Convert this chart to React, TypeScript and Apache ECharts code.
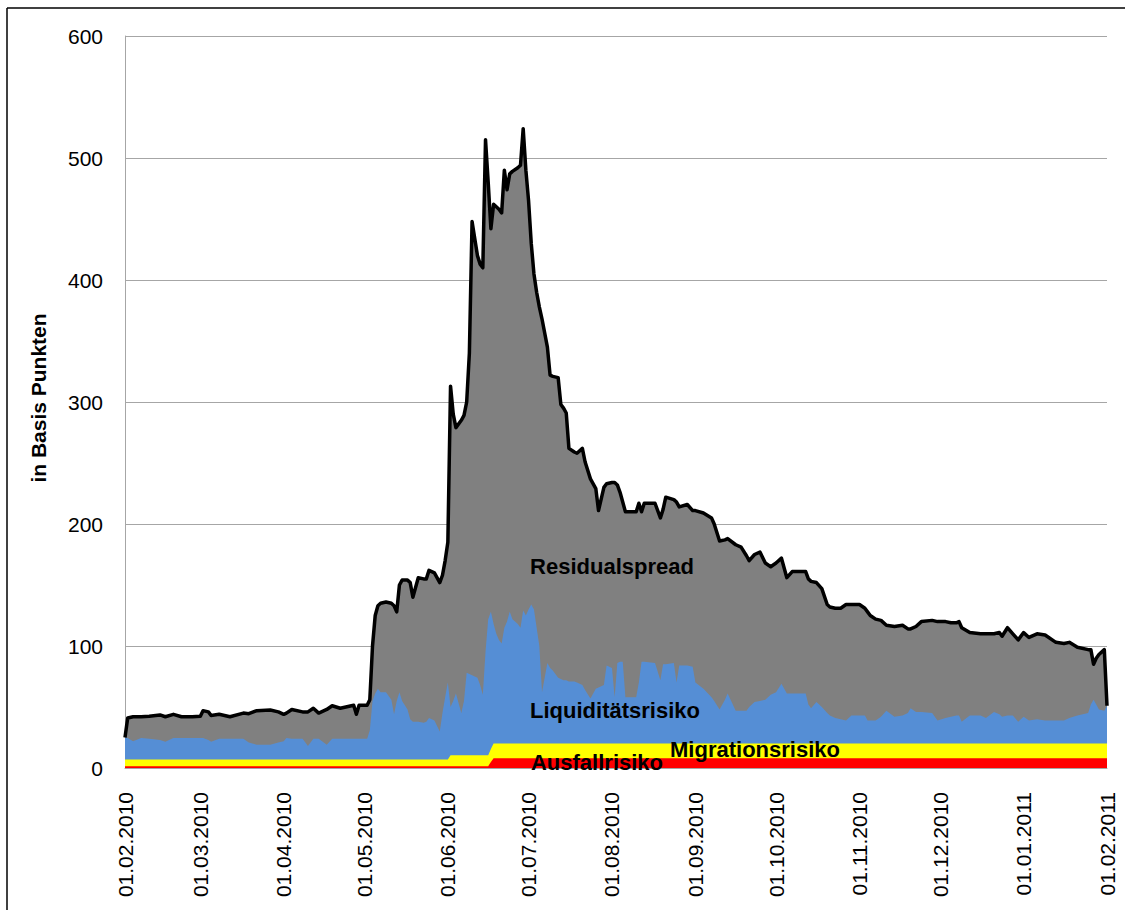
import React, { useEffect, useRef } from "react";
import * as echarts from "echarts";

// X-axis tick labels (monthly)
const tickLabels = [
  "01.02.2010", "01.03.2010", "01.04.2010", "01.05.2010", "01.06.2010", "01.07.2010",
  "01.08.2010", "01.09.2010", "01.10.2010", "01.11.2010", "01.12.2010", "01.01.2011", "01.02.2011",
];

// Observation dates, as days since 01.02.2010
const dayOffsets = [
  0, 1, 3, 6, 9, 13, 15, 18, 21, 25, 28, 29, 31, 32, 35, 39, 44, 46, 49, 54,
  57, 59, 60, 62, 66, 68, 70, 72, 75, 77, 80, 85, 86, 87, 90, 91, 92, 93, 94, 95,
  97, 99, 100, 101, 102, 103, 105, 106, 107, 109, 111, 112, 113, 115, 117, 118, 119, 120, 121, 122,
  123, 125, 126, 127, 128, 129, 131, 132, 133, 134, 135, 136, 137, 138, 139, 140, 141, 142, 143, 144,
  146, 147, 148, 149, 150, 151, 152, 153, 154, 155, 157, 158, 159, 161, 162, 163, 164, 165, 167, 168,
  170, 171, 173, 175, 176, 178, 179, 181, 182, 183, 184, 185, 186, 190, 191, 192, 193, 197, 199, 200,
  201, 204, 205, 206, 209, 211, 212, 215, 218, 219, 221, 223, 224, 227, 229, 231, 232, 234, 236, 238,
  240, 242, 244, 246, 248, 251, 253, 254, 255, 257, 259, 261, 262, 264, 266, 268, 270, 273, 275, 276,
  277, 279, 281, 283, 286, 289, 291, 292, 294, 296, 300, 302, 305, 307, 309, 310, 311, 314, 318, 320,
  323, 325, 326, 328, 330, 332, 334, 336, 339, 342, 346, 349, 351, 354, 358, 359, 360, 361, 362, 364,
  365,
];

// Total spread (black line), bp
const gesamt = [
  25, 41, 42, 42, 42.5, 43.5, 42, 44, 42, 42, 42.5, 47, 46, 43, 44, 42, 45, 44.5, 47, 47.5,
  46, 44, 45, 48, 46, 46, 49, 45, 48, 51, 49, 51.5, 44, 51.5, 51.5, 56, 100, 125, 133, 135,
  136, 135, 133, 128, 150, 154, 154, 152, 140, 156, 155, 155, 162, 160, 152, 158, 170, 185, 313, 290,
  279, 285, 289, 300, 340, 448, 420, 413, 410, 515, 480, 442, 462, 460, 458, 455, 490, 474, 487, 489,
  492, 494, 524, 490, 465, 430, 405, 390, 378, 368, 345, 322, 321, 320, 298, 295, 291, 262, 259, 258,
  262, 251, 237, 229, 211, 230, 233, 234, 234, 232, 226, 218, 210, 210, 217, 210, 217, 217, 205, 212,
  222, 220, 218, 214, 216, 211, 211, 209, 205, 200, 186, 187, 188, 183, 181, 174, 170, 175, 177, 168,
  165, 168, 172, 156, 161, 161, 161, 155, 153, 152, 147, 134, 132, 131, 131, 134, 134, 134, 131, 128,
  125, 122, 121, 117, 116, 117, 114, 114, 116, 120, 121, 120, 120, 119, 119, 120, 115, 111, 110, 110,
  110, 111, 108, 115, 110, 105, 111, 107, 110, 109, 103, 102, 103, 99, 97, 97, 85, 90, 93, 97,
  51,
];

// Upper edge of the Liquiditätsrisiko layer (Ausfall + Migration + Liquidität), bp
const liquiditaetOben = [
  25, 24.5, 22, 24.5, 24, 23, 21.5, 24.5, 24.5, 24.5, 24.5, 24.5, 23, 21.5, 24, 24, 24, 21, 19, 19,
  21, 22, 24.5, 24, 24, 18, 24, 24, 19, 24, 24, 24, 24, 24, 24, 31, 55, 61, 65, 62,
  62, 56, 44, 55, 62, 55, 48, 40, 38, 38, 37, 38, 41, 39, 30, 45, 58, 70, 50, 55,
  61, 45, 55, 78, 77, 76, 74, 68, 60, 95, 122, 128, 118, 110, 105, 102, 115, 120, 128, 122,
  118, 115, 129, 125, 130, 134, 130, 115, 100, 62, 86, 82, 80, 74, 73, 72, 72, 71, 71, 70,
  68, 64, 57, 65, 66, 68, 84, 82, 58, 86, 87, 87, 58, 58, 70, 87, 87, 86, 72, 85,
  85, 86, 70, 84, 84, 83, 70, 65, 58, 55, 48, 56, 61, 47, 47, 47, 50, 54, 55, 56,
  60, 62, 69, 61, 61, 61, 61, 52, 49, 54, 50, 45, 43, 41, 40, 39, 43, 43, 43, 39,
  39, 39, 42, 47, 42, 43, 45, 49, 46, 46, 45, 39, 41, 42, 43, 43, 38, 43, 43, 41,
  46, 44, 42, 43, 43, 38, 42, 39, 40, 39, 39, 39, 41, 43, 45, 52, 56, 52, 48, 47,
  51,
];

// Ausfallrisiko, bp
const ausfall = [
  1.5, 1.5, 1.5, 1.5, 1.5, 1.5, 1.5, 1.5, 1.5, 1.5, 1.5, 1.5, 1.5, 1.5, 1.5, 1.5, 1.5, 1.5, 1.5, 1.5,
  1.5, 1.5, 1.5, 1.5, 1.5, 1.5, 1.5, 1.5, 1.5, 1.5, 1.5, 1.5, 1.5, 1.5, 1.5, 1.5, 1.5, 1.5, 1.5, 1.5,
  1.5, 1.5, 1.5, 1.5, 1.5, 1.5, 1.5, 1.5, 1.5, 1.5, 1.5, 1.5, 1.5, 1.5, 1.5, 1.5, 1.5, 1.5, 1.5, 1.5,
  1.5, 1.5, 1.5, 1.5, 1.5, 1.5, 1.5, 1.5, 1.5, 1.5, 1.5, 5, 8, 8, 8, 8, 8, 8, 8, 8,
  8, 8, 8, 8, 8, 8, 8, 8, 8, 8, 8, 8, 8, 8, 8, 8, 8, 8, 8, 8,
  8, 8, 8, 8, 8, 8, 8, 8, 8, 8, 8, 8, 8, 8, 8, 8, 8, 8, 8, 8,
  8, 8, 8, 8, 8, 8, 8, 8, 8, 8, 8, 8, 8, 8, 8, 8, 8, 8, 8, 8,
  8, 8, 8, 8, 8, 8, 8, 8, 8, 8, 8, 8, 8, 8, 8, 8, 8, 8, 8, 8,
  8, 8, 8, 8, 8, 8, 8, 8, 8, 8, 8, 8, 8, 8, 8, 8, 8, 8, 8, 8,
  8, 8, 8, 8, 8, 8, 8, 8, 8, 8, 8, 8, 8, 8, 8, 8, 8, 8, 8, 8,
  8,
];

// Migrationsrisiko, bp
const migration = [
  5.5, 5.5, 5.5, 5.5, 5.5, 5.5, 5.5, 5.5, 5.5, 5.5, 5.5, 5.5, 5.5, 5.5, 5.5, 5.5, 5.5, 5.5, 5.5, 5.5,
  5.5, 5.5, 5.5, 5.5, 5.5, 5.5, 5.5, 5.5, 5.5, 5.5, 5.5, 5.5, 5.5, 5.5, 5.5, 5.5, 5.5, 5.5, 5.5, 5.5,
  5.5, 5.5, 5.5, 5.5, 5.5, 5.5, 5.5, 5.5, 5.5, 5.5, 5.5, 5.5, 5.5, 5.5, 5.5, 5.5, 5.5, 5.5, 9, 9,
  9, 9, 9, 9, 9, 9, 9, 9, 9, 9, 9, 10.5, 12, 12, 12, 12, 12, 12, 12, 12,
  12, 12, 12, 12, 12, 12, 12, 12, 12, 12, 12, 12, 12, 12, 12, 12, 12, 12, 12, 12,
  12, 12, 12, 12, 12, 12, 12, 12, 12, 12, 12, 12, 12, 12, 12, 12, 12, 12, 12, 12,
  12, 12, 12, 12, 12, 12, 12, 12, 12, 12, 12, 12, 12, 12, 12, 12, 12, 12, 12, 12,
  12, 12, 12, 12, 12, 12, 12, 12, 12, 12, 12, 12, 12, 12, 12, 12, 12, 12, 12, 12,
  12, 12, 12, 12, 12, 12, 12, 12, 12, 12, 12, 12, 12, 12, 12, 12, 12, 12, 12, 12,
  12, 12, 12, 12, 12, 12, 12, 12, 12, 12, 12, 12, 12, 12, 12, 12, 12, 12, 12, 12,
  12,
];

const DAY = 86400000;
const START = Date.UTC(2010, 1, 1);
const FONT = "'Liberation Sans', Arial, sans-serif";

function parseDE(s: string): number {
  const [d, m, y] = s.split(".").map(Number);
  return Date.UTC(y, m - 1, d);
}
function pad(n: number) {
  return n < 10 ? "0" + n : String(n);
}
function fmtDE(ts: number): string {
  const dt = new Date(ts);
  return pad(dt.getUTCDate()) + "." + pad(dt.getUTCMonth() + 1) + "." + dt.getUTCFullYear();
}

export default function App() {
  const ref = useRef<HTMLDivElement>(null);

  useEffect(() => {
    if (!ref.current) return;
    const chart = echarts.init(ref.current, null, { renderer: "svg" });

    const xs = dayOffsets.map((d) => START + d * DAY);
    const pairs = (arr: number[]) => arr.map((v, i) => [xs[i], v]);
    const tickValues = tickLabels.map(parseDE);

    // Cumulative upper edges of each layer (stacked areas drawn from the top layer down)
    const migrationOben = migration.map((v, i) => v + ausfall[i]);

    const areaSeries = (name: string, data: number[], color: string, z: number) => ({
      name,
      type: "line",
      data: pairs(data),
      symbol: "none",
      showSymbol: false,
      lineStyle: { width: 0, opacity: 0 },
      areaStyle: { color, opacity: 1, origin: "start" },
      emphasis: { disabled: true },
      silent: true,
      z,
    });

    const boldText = (text: string, x: number, y: number) => ({
      type: "text",
      x,
      y,
      z: 100,
      style: {
        text,
        fill: "#000",
        font: `bold 22px ${FONT}`,
        align: "center",
        verticalAlign: "middle",
      },
    });

    chart.setOption({
      animation: false,
      backgroundColor: "#ffffff",
      grid: {
        left: 125,
        top: 36,
        width: 982,
        height: 732,
        containLabel: false,
      },
      xAxis: {
        type: "value",
        min: START,
        max: tickValues[tickValues.length - 1],
        scale: true,
        axisLine: { show: true, onZero: false, lineStyle: { color: "#a6a6a6", width: 1 } },
        axisTick: { show: false },
        splitLine: { show: false },
        axisLabel: {
          rotate: 90,
          margin: 24,
          fontSize: 21,
          fontFamily: FONT,
          color: "#000",
          customValues: tickValues,
          formatter: (v: number) => fmtDE(v),
          showMinLabel: true,
          showMaxLabel: true,
        },
      },
      yAxis: {
        type: "value",
        min: 0,
        max: 600,
        interval: 100,
        axisLine: { show: true, lineStyle: { color: "#a6a6a6", width: 1 } },
        axisTick: { show: false },
        splitLine: { show: true, lineStyle: { color: "#a6a6a6", width: 1 } },
        axisLabel: {
          margin: 22,
          fontSize: 21,
          fontFamily: FONT,
          color: "#000",
        },
      },
      series: [
        areaSeries("Residualspread", gesamt, "#808080", 2),
        areaSeries("Liquiditätsrisiko", liquiditaetOben, "#558ed5", 3),
        areaSeries("Migrationsrisiko", migrationOben, "#ffff00", 4),
        areaSeries("Ausfallrisiko", ausfall, "#ff0000", 5),
        {
          name: "Gesamt",
          type: "line",
          data: pairs(gesamt),
          symbol: "none",
          showSymbol: false,
          lineStyle: { width: 3.5, color: "#000000", join: "round" },
          emphasis: { disabled: true },
          silent: true,
          z: 6,
        },
      ],
      graphic: [
        {
          type: "line",
          z: 100,
          shape: { x1: 7, y1: 8, x2: 1125, y2: 8 },
          style: { stroke: "#000", lineWidth: 1.5 },
        },
        {
          type: "line",
          z: 100,
          shape: { x1: 7, y1: 8, x2: 7, y2: 910 },
          style: { stroke: "#000", lineWidth: 1.5 },
        },
        {
          type: "text",
          x: 38,
          y: 398,
          rotation: Math.PI / 2,
          z: 100,
          style: {
            text: "in Basis Punkten",
            fill: "#000",
            font: `bold 21px ${FONT}`,
            align: "center",
            verticalAlign: "middle",
          },
        },
        boldText("Residualspread", 612, 566),
        boldText("Liquiditätsrisiko", 615, 710),
        boldText("Migrationsrisiko", 755, 749),
        boldText("Ausfallrisiko", 597, 762),
      ],
    });

    return () => chart.dispose();
  }, []);

  return (
    <div
      ref={ref}
      style={{ position: "fixed", left: 0, top: 0, width: 1125, height: 918, background: "#fff" }}
    />
  );
}
